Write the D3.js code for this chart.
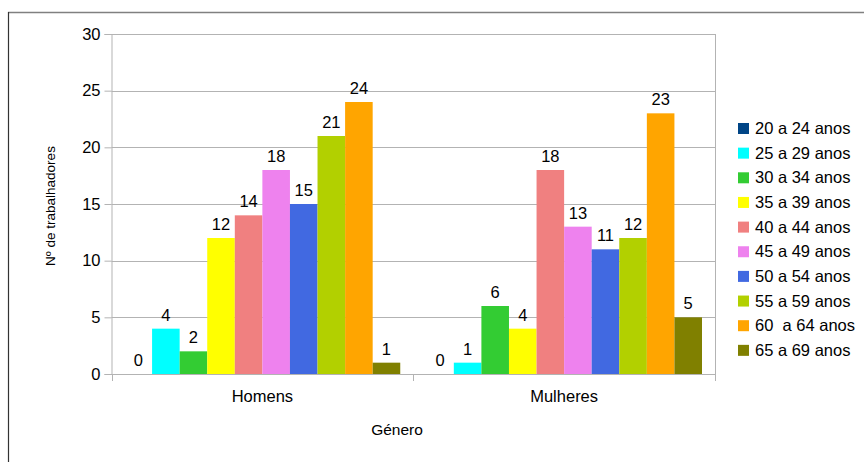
<!DOCTYPE html>
<html>
<head>
<meta charset="utf-8">
<script src="https://cdn.jsdelivr.net/npm/d3@7"></script>
<style>
  body { margin: 0; background: #fff; }
  text { font-family: "Liberation Sans", Arial, sans-serif; fill: #000; }
</style>
</head>
<body>
<div id="chart"></div>
<script>
// data
const groups = ["Homens", "Mulheres"];
const series = ["20 a 24 anos", "25 a 29 anos", "30 a 34 anos", "35 a 39 anos", "40 a 44 anos",
                "45 a 49 anos", "50 a 54 anos", "55 a 59 anos", "60  a 64 anos", "65 a 69 anos"];
const homens = [0, 4, 2, 12, 14, 18, 15, 21, 24, 1];
const mulheres = [0, 1, 6, 4, 18, 13, 11, 12, 23, 5];
const colours = ["#004586", "#00ffff", "#33cc33", "#ffff00", "#f08080",
                 "#ee82ee", "#4169e1", "#b2d000", "#ffa500", "#808000"];
const yTicks = [0, 5, 10, 15, 20, 25, 30];

const values = { Homens: homens, Mulheres: mulheres };

const width = 864, height = 462;
const plot = { left: 111.5, right: 715, top: 34, bottom: 374 };

const svg = d3.select("#chart").append("svg")
    .attr("width", width)
    .attr("height", height);

// outer frame (only top and left edges are in the picture)
svg.append("line").attr("x1", 8).attr("x2", width).attr("y1", 12.5).attr("y2", 12.5)
    .attr("stroke", "#808080").attr("stroke-width", 1.5);
svg.append("line").attr("x1", 8.5).attr("x2", 8.5).attr("y1", 12).attr("y2", height)
    .attr("stroke", "#333").attr("stroke-width", 1.2);

// scales
const y = d3.scaleLinear().domain([0, 30]).range([plot.bottom, plot.top]);
const x0 = d3.scaleBand().domain(groups).range([plot.left, plot.right]);
const x1 = d3.scaleBand().domain(series).range([13, x0.bandwidth() - 13]);
const colour = d3.scaleOrdinal().domain(series).range(colours);

// gridlines
svg.append("g").selectAll("line").data(yTicks.filter(d => d > 0)).join("line")
    .attr("x1", plot.left).attr("x2", plot.right)
    .attr("y1", d => Math.round(y(d)) + 0.5).attr("y2", d => Math.round(y(d)) + 0.5)
    .attr("stroke", "#b3b3b3");

// right wall edge
svg.append("line").attr("x1", plot.right + 0.5).attr("x2", plot.right + 0.5)
    .attr("y1", plot.top).attr("y2", plot.bottom + 7).attr("stroke", "#b3b3b3");

// y axis
const yAxis = svg.append("g")
    .attr("transform", `translate(${plot.left},0)`)
    .call(d3.axisLeft(y).tickValues(yTicks).tickSize(7).tickPadding(4));
yAxis.select(".domain").attr("stroke", "#b3b3b3");
yAxis.selectAll(".tick line").attr("stroke", "#b3b3b3");
yAxis.selectAll(".tick text")
    .style("font-size", "16.5px").style("font-family", "Liberation Sans, Arial, sans-serif")
    .attr("fill", "#000");

// bars
const g = svg.append("g");
groups.forEach(grp => {
  const gg = g.append("g").attr("transform", `translate(${x0(grp)},0)`);
  gg.selectAll("rect").data(values[grp]).join("rect")
      .attr("x", (d, i) => x1(series[i]))
      .attr("width", x1.bandwidth())
      .attr("y", d => y(d))
      .attr("height", d => y(0) - y(d))
      .attr("fill", (d, i) => colour(series[i]));
  gg.selectAll("text").data(values[grp]).join("text")
      .attr("x", (d, i) => x1(series[i]) + x1.bandwidth() / 2)
      .attr("y", d => y(d) - 8)
      .attr("text-anchor", "middle")
      .style("font-size", "16.5px")
      .text(d => d);
});

// x axis
const xAxis = svg.append("g")
    .attr("transform", `translate(0,${plot.bottom})`);
xAxis.append("line").attr("x1", plot.left).attr("x2", plot.right)
    .attr("y1", 0.5).attr("y2", 0.5).attr("stroke", "#b3b3b3");
const bounds = [plot.left, x0("Mulheres"), plot.right];
xAxis.selectAll(".tk").data(bounds).join("line")
    .attr("x1", d => Math.round(d) + 0.5).attr("x2", d => Math.round(d) + 0.5)
    .attr("y1", 0).attr("y2", 7).attr("stroke", "#b3b3b3");
xAxis.selectAll(".lbl").data(groups).join("text")
    .attr("x", d => x0(d) + x0.bandwidth() / 2)
    .attr("y", 28)
    .attr("text-anchor", "middle")
    .style("font-size", "16.5px")
    .text(d => d);

// axis titles
svg.append("text")
    .attr("x", 397).attr("y", 435)
    .attr("text-anchor", "middle")
    .style("font-size", "15.5px")
    .text("Género");
svg.append("text")
    .attr("transform", "translate(55,206) rotate(-90)")
    .attr("text-anchor", "middle")
    .style("font-size", "13.5px")
    .text("Nº de trabalhadores");

// legend
const legend = svg.append("g").attr("transform", "translate(738,128)");
const item = legend.selectAll("g").data(series).join("g")
    .attr("transform", (d, i) => `translate(0,${i * 24.65})`);
item.append("rect").attr("x", 0).attr("y", -5).attr("width", 11).attr("height", 11)
    .attr("fill", d => colour(d));
item.append("text").attr("x", 17).attr("y", 6)
    .style("font-size", "16.5px")
    .style("white-space", "pre")
    .text(d => d);
</script>
</body>
</html>
